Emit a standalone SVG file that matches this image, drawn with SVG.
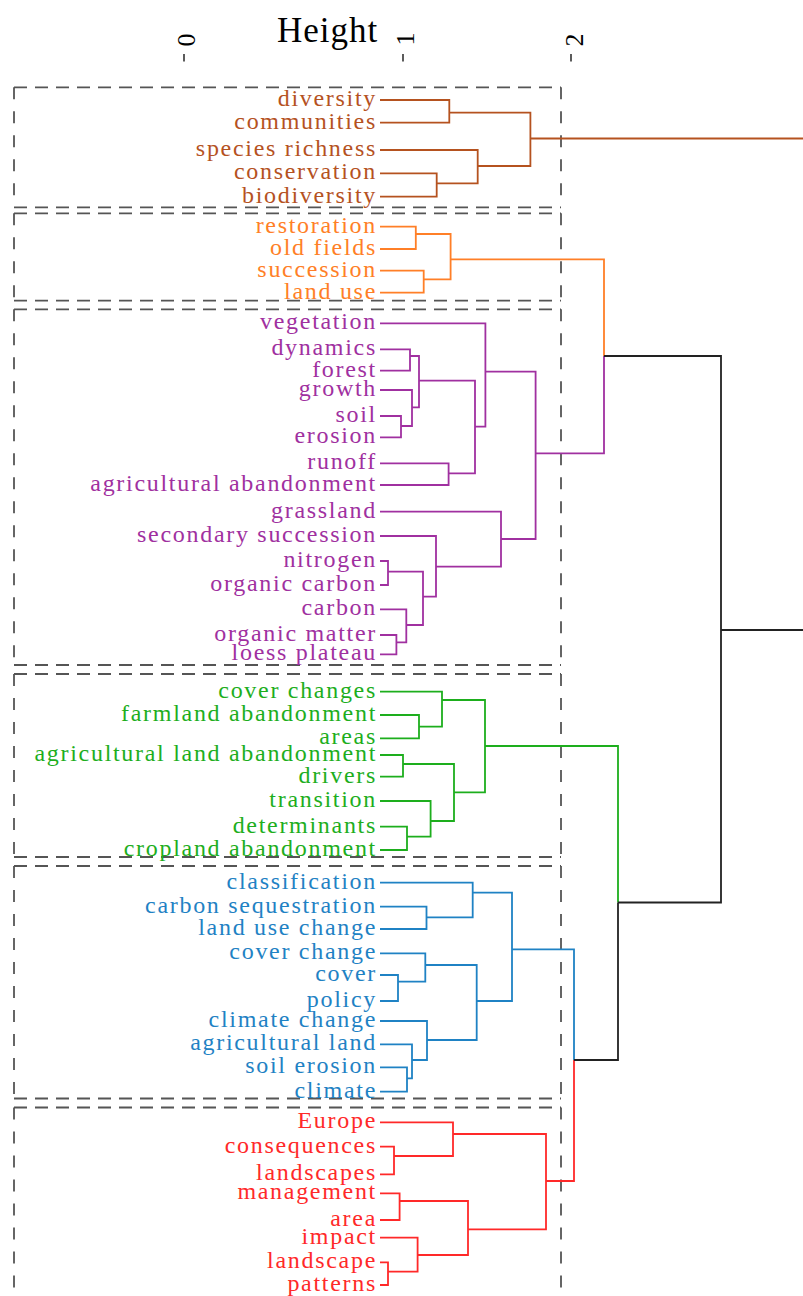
<svg xmlns="http://www.w3.org/2000/svg" width="803" height="1296" viewBox="0 0 803 1296">
<style>
.lab{font-family:"Liberation Serif","Times New Roman",serif;font-size:24px;letter-spacing:1.7px;text-anchor:end}
.ax{font-family:"Liberation Serif","Times New Roman",serif;font-size:26px;text-anchor:middle}
.br{fill:#B5521F}.or{fill:#FF7F27}.pu{fill:#A030A0}.gr{fill:#1DAE1D}.bl{fill:#1F82C4}.re{fill:#FF2929}
.c{fill:none;stroke-width:1.8;stroke-linejoin:miter;stroke-linecap:butt}
.dh{stroke:#555;stroke-width:1.8;stroke-dasharray:13 8;fill:none}
.dv{stroke:#555;stroke-width:1.8;stroke-dasharray:12 12;fill:none}
</style>
<rect width="803" height="1296" fill="#fff"/>
<g id="axis">
<text x="277" y="42" font-family="Liberation Serif, Times New Roman, serif" font-size="35" letter-spacing="1" fill="#000">Height</text>
<g stroke="#333" stroke-width="1.6">
<line x1="184" y1="54" x2="184" y2="61.5"/>
<line x1="403" y1="54" x2="403" y2="61.5"/>
<line x1="571" y1="54" x2="571" y2="61.5"/>
</g>
<text class="ax" transform="translate(195,40) rotate(-90)">0</text>
<text class="ax" transform="translate(414,39) rotate(-90)">1</text>
<text class="ax" transform="translate(583,40) rotate(-90)">2</text>
</g>
<g id="cluster-boxes">
<path class="dh" d="M14 87.3H561M14 207.3H561M14 213.3H561M14 300.7H561M14 309.3H561M14 665H561M14 674H561M14 857H561M14 866H561M14 1098.5H561M14 1107.5H561"/>
<path class="dv" d="M14 87.3V207.3M561 87.3V207.3M14 213.3V300.7M561 213.3V300.7M14 309.3V665M561 309.3V665M14 674V857M561 674V857M14 866V1098.5M561 866V1098.5M14 1107.5V1300M561 1107.5V1300"/>
</g>
<g id="connectors">
<path class="c" stroke="#B5521F" d="M380 100H449.3V122.7H380M380 173.3H436.7V196.7H380M380 150H477.7V183.3H436.7M449.3 112.7H530.4V166H477.7M530.4 138.5H803"/>
<path class="c" stroke="#FF7F27" d="M380 226.7H415.8V249H380M380 270.7H423.7V292.7H380M415.8 234H450.6V279.3H423.7M450.6 259.3H604V356"/>
<path class="c" stroke="#A030A0" d="M380 349.3H410V370.7H380M380 416H401V437.3H380M380 390H412V426H401M410 356H419V407.3H412M380 463.3H448.6V485H380M419 380.7H475V473.3H448.6M380 323.3H485.4V426.7H475M380 561H388V585H380M380 635H396.4V654.3H380M380 609.3H406.3V642.3H396.4M388 571.7H423V625H406.3M380 536H436V596.7H423M380 511.7H501V566.7H436M485.4 371.7H535.6V539H501M535.6 453.3H604V356"/>
<path class="c" stroke="#1DAE1D" d="M380 715H419V738.3H380M380 691.7H442V726.7H419M380 755H403V776.7H380M380 826.7H407V850H380M380 801H430.6V836.7H407M403 764H454V821H430.6M442 700H485V792.3H454M485 746H618V902.5"/>
<path class="c" stroke="#1F82C4" d="M380 906.7H426.5V929H380M380 882.7H472.7V917.3H426.5M380 975H398V1001H380M380 953.3H425.3V981.7H398M380 1067.3H407V1091.7H380M380 1044.3H412V1078.3H407M380 1021H427V1060H412M425.3 965H476.7V1040H427M472.7 892.7H512V1001H476.7M512 949.3H574V1060"/>
<path class="c" stroke="#FF2929" d="M380 1146.7H394V1174.3H380M380 1122.3H453V1156H394M380 1193.3H399.6V1220H380M380 1262.3H388V1285H380M380 1237.7H417.6V1271.7H388M399.6 1201H468V1255H417.6M453 1134H546V1229.3H468M546 1181H574V1060"/>
<path class="c" stroke="#222" d="M604 356H721V902.5H618M721 630H803M618 902.5V1060H574"/>
</g>
<g id="leaf-diversity"><text class="lab br" x="377" y="106">diversity</text></g>
<g id="leaf-communities"><text class="lab br" x="377" y="128.7">communities</text></g>
<g id="leaf-species-richness"><text class="lab br" x="377" y="156">species richness</text></g>
<g id="leaf-conservation"><text class="lab br" x="377" y="179.3">conservation</text></g>
<g id="leaf-biodiversity"><text class="lab br" x="377" y="202.7">biodiversity</text></g>
<g id="leaf-restoration"><text class="lab or" x="377" y="232.7">restoration</text></g>
<g id="leaf-old-fields"><text class="lab or" x="377" y="255">old fields</text></g>
<g id="leaf-succession"><text class="lab or" x="377" y="276.7">succession</text></g>
<g id="leaf-land-use"><text class="lab or" x="377" y="298.7">land use</text></g>
<g id="leaf-vegetation"><text class="lab pu" x="377" y="329.3">vegetation</text></g>
<g id="leaf-dynamics"><text class="lab pu" x="377" y="355.3">dynamics</text></g>
<g id="leaf-forest"><text class="lab pu" x="377" y="376.7">forest</text></g>
<g id="leaf-growth"><text class="lab pu" x="377" y="396">growth</text></g>
<g id="leaf-soil"><text class="lab pu" x="377" y="422">soil</text></g>
<g id="leaf-erosion"><text class="lab pu" x="377" y="443.3">erosion</text></g>
<g id="leaf-runoff"><text class="lab pu" x="377" y="469.3">runoff</text></g>
<g id="leaf-agricultural-abandonment"><text class="lab pu" x="377" y="491">agricultural abandonment</text></g>
<g id="leaf-grassland"><text class="lab pu" x="377" y="517.7">grassland</text></g>
<g id="leaf-secondary-succession"><text class="lab pu" x="377" y="542">secondary succession</text></g>
<g id="leaf-nitrogen"><text class="lab pu" x="377" y="567">nitrogen</text></g>
<g id="leaf-organic-carbon"><text class="lab pu" x="377" y="591">organic carbon</text></g>
<g id="leaf-carbon"><text class="lab pu" x="377" y="615.3">carbon</text></g>
<g id="leaf-organic-matter"><text class="lab pu" x="377" y="641">organic matter</text></g>
<g id="leaf-loess-plateau"><text class="lab pu" x="377" y="660.3">loess plateau</text></g>
<g id="leaf-cover-changes"><text class="lab gr" x="377" y="697.7">cover changes</text></g>
<g id="leaf-farmland-abandonment"><text class="lab gr" x="377" y="721">farmland abandonment</text></g>
<g id="leaf-areas"><text class="lab gr" x="377" y="744.3">areas</text></g>
<g id="leaf-agricultural-land-abandonment"><text class="lab gr" x="377" y="761">agricultural land abandonment</text></g>
<g id="leaf-drivers"><text class="lab gr" x="377" y="782.7">drivers</text></g>
<g id="leaf-transition"><text class="lab gr" x="377" y="807">transition</text></g>
<g id="leaf-determinants"><text class="lab gr" x="377" y="832.7">determinants</text></g>
<g id="leaf-cropland-abandonment"><text class="lab gr" x="377" y="856">cropland abandonment</text></g>
<g id="leaf-classification"><text class="lab bl" x="377" y="888.7">classification</text></g>
<g id="leaf-carbon-sequestration"><text class="lab bl" x="377" y="912.7">carbon sequestration</text></g>
<g id="leaf-land-use-change"><text class="lab bl" x="377" y="935">land use change</text></g>
<g id="leaf-cover-change"><text class="lab bl" x="377" y="959.3">cover change</text></g>
<g id="leaf-cover"><text class="lab bl" x="377" y="981">cover</text></g>
<g id="leaf-policy"><text class="lab bl" x="377" y="1007">policy</text></g>
<g id="leaf-climate-change"><text class="lab bl" x="377" y="1027">climate change</text></g>
<g id="leaf-agricultural-land"><text class="lab bl" x="377" y="1050.3">agricultural land</text></g>
<g id="leaf-soil-erosion"><text class="lab bl" x="377" y="1073.3">soil erosion</text></g>
<g id="leaf-climate"><text class="lab bl" x="377" y="1097.7">climate</text></g>
<g id="leaf-Europe"><text class="lab re" x="377" y="1128.3">Europe</text></g>
<g id="leaf-consequences"><text class="lab re" x="377" y="1152.7">consequences</text></g>
<g id="leaf-landscapes"><text class="lab re" x="377" y="1180.3">landscapes</text></g>
<g id="leaf-management"><text class="lab re" x="377" y="1199.3">management</text></g>
<g id="leaf-area"><text class="lab re" x="377" y="1226">area</text></g>
<g id="leaf-impact"><text class="lab re" x="377" y="1243.7">impact</text></g>
<g id="leaf-landscape"><text class="lab re" x="377" y="1268.3">landscape</text></g>
<g id="leaf-patterns"><text class="lab re" x="377" y="1291">patterns</text></g>
</svg>
